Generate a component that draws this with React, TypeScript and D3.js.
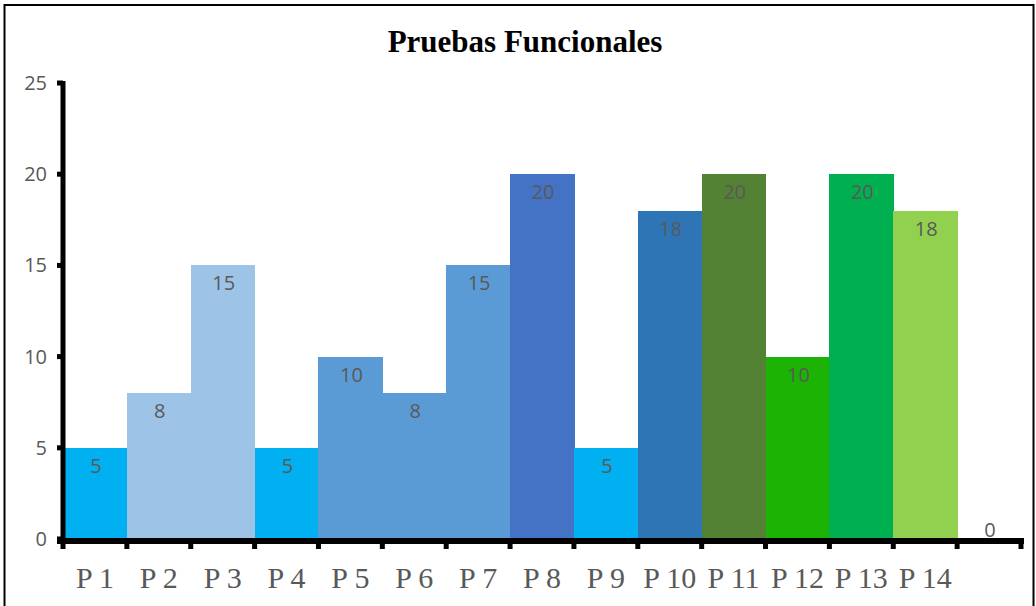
import React from "react";
import * as d3 from "d3";

const categories = ["P 1", "P 2", "P 3", "P 4", "P 5", "P 6", "P 7", "P 8", "P 9", "P 10", "P 11", "P 12", "P 13", "P 14", ""];
const values = [5, 8, 15, 5, 10, 8, 15, 20, 5, 18, 20, 10, 20, 18, 0];
const colors = ["#00B0F0", "#9DC3E6", "#9DC3E6", "#00B0F0", "#5B9BD5", "#5B9BD5", "#5B9BD5", "#4472C4", "#00B0F0", "#2E75B6", "#548235", "#1DB304", "#00B050", "#92D050", "#ffffff"];
const yTicks = [0, 5, 10, 15, 20, 25];
const title = "Pruebas Funcionales";

const W = 1036, H = 606;
const left = 63, right = 1021, top = 83, bottom = 539;

export default function App() {
  const ids = categories.map((_, i) => String(i));
  const x = d3.scaleBand<string>().domain(ids).range([left, right]).padding(0);
  const y = d3.scaleLinear().domain([0, 25]).range([bottom, top]);
  const bw = x.bandwidth();
  return (
    <div style={{ position: "absolute", left: 0, top: 0 }}>
      <svg width={W} height={H} style={{ display: "block" }}>
        <rect x={0} y={0} width={W} height={H} fill="#fff" />
        <rect x={4.5} y={5} width={1029} height={620} fill="none" stroke="#000" strokeWidth={2} />
        <text x={525} y={52} textAnchor="middle" fontFamily="'Liberation Serif', serif" fontWeight="bold" fontSize={31} fill="#000">{title}</text>
        {values.map((v, i) => (
          <rect key={"b" + i} x={x(ids[i]) as number} y={y(v)} width={bw + 0.6} height={bottom - y(v)} fill={colors[i]} shapeRendering="crispEdges" />
        ))}
        {values.map((v, i) => (
          <text key={"l" + i} x={(x(ids[i]) as number) + bw / 2 + 1} y={v === 0 ? y(v) - 2 : y(v) + 25} textAnchor="middle" fontFamily="'Open Sans', sans-serif" fontSize={20} fill="#595959">{v}</text>
        ))}
        <line x1={left} x2={left} y1={top - 2} y2={bottom + 3} stroke="#000" strokeWidth={5} />
        {yTicks.map((t) => (
          <g key={"yt" + t}>
            <line x1={left - 6} x2={left} y1={y(t)} y2={y(t)} stroke="#000" strokeWidth={5} />
            <text x={47} y={y(t) + 7} textAnchor="end" fontFamily="'Open Sans', sans-serif" fontSize={20} fill="#595959">{t}</text>
          </g>
        ))}
        <line x1={left - 6} x2={right + 3} y1={bottom + 2} y2={bottom + 2} stroke="#000" strokeWidth={6} />
        {[...ids.map((id) => x(id) as number), right].map((p, i) => (
          <line key={"xt" + i} x1={p} x2={p} y1={bottom} y2={bottom + 10} stroke="#000" strokeWidth={5} />
        ))}
        {categories.map((c, i) => (
          <text key={"xl" + i} x={(x(ids[i]) as number) + bw / 2} y={588} textAnchor="middle" fontFamily="'Liberation Serif', serif" fontSize={30} fill="#595959">{c}</text>
        ))}
      </svg>
    </div>
  );
}
